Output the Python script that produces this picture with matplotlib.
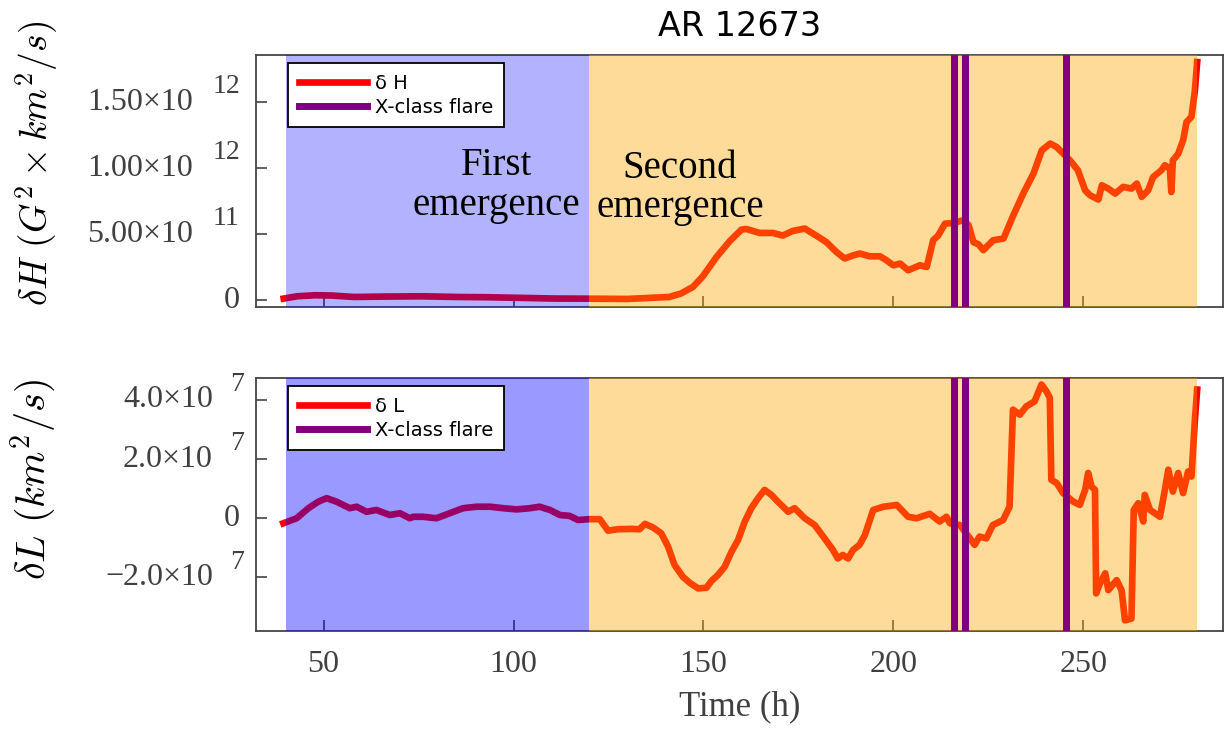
import matplotlib
matplotlib.use("Agg")
import matplotlib.pyplot as plt
import numpy as np

plt.rcParams["mathtext.fontset"] = "cm"

SERIF = "Liberation Serif"
TICK_COLOR = "#404040"

# helicity injection dH (units of 1e12 G^2 km^2/s)
t_H = [39.5, 43, 47.7, 52, 58, 66, 76, 85, 93, 102, 111, 120, 130, 141, 144,
       147.2, 149.8, 153.5, 157, 160, 161.3, 164.8, 168.3, 170.9, 173.5, 176.7,
       179.7, 182.4, 185, 187.2, 189.4, 191.2, 193.8, 196.5, 198.2, 200, 201.8,
       203.9, 207, 208.8, 210.5, 211.8, 213.6, 215.8, 218.4, 219.8, 221.1, 222.4,
       223.7, 226.3, 229, 231.6, 234.2, 236.9, 239.1, 241.3, 243, 246.5, 248.6,
       250.5, 251.8, 254, 254.9, 256.6, 258.4, 260.5, 262.7, 264.1, 265.4, 267.1,
       268.4, 270.6, 271.5, 272.8, 273.2, 273.6, 275, 276.3, 277.2, 278.5, 279.4,
       280]
dH = [0.013, 0.03, 0.038, 0.036, 0.025, 0.028, 0.03, 0.025, 0.023, 0.018, 0.013,
      0.012, 0.01, 0.025, 0.05, 0.1, 0.18, 0.33, 0.45, 0.535, 0.54, 0.51, 0.51,
      0.49, 0.525, 0.543, 0.49, 0.44, 0.366, 0.316, 0.34, 0.354, 0.333, 0.333,
      0.303, 0.265, 0.278, 0.227, 0.265, 0.252, 0.455, 0.49, 0.58, 0.586, 0.606,
      0.57, 0.44, 0.424, 0.38, 0.455, 0.467, 0.644, 0.808, 0.96, 1.136, 1.187,
      1.161, 1.06, 0.985, 0.833, 0.795, 0.763, 0.871, 0.846, 0.808, 0.859, 0.846,
      0.884, 0.783, 0.833, 0.934, 0.985, 1.023, 0.998, 0.82, 1.06, 1.11, 1.212,
      1.35, 1.39, 1.59, 1.805]

# angular momentum change dL (units of 1e7 km^2/s)
t_L = [39.4, 42.9, 46, 48.6, 50.8, 53.4, 56.9, 58.7, 61.3, 63.9, 67.4, 70.1, 72.7,
       73.6, 76.2, 79.7, 83.2, 86.7, 90.3, 93.8, 97.3, 100.8, 104.3, 106.9, 109.6,
       112.2, 114.8, 117, 120.1, 122.7, 124.9, 127.5, 131, 133.2, 134.6, 136.7,
       138.9, 140.7, 142.4, 144.6, 146.4, 148.6, 150.8, 152.1, 153.8, 155.6, 157.4,
       159.1, 160.9, 162.6, 164.4, 166.1, 167.9, 169.6, 172.3, 174, 176.7, 179.3,
       181.9, 184.1, 185.4, 186.7, 188.1, 189.4, 191.1, 192.5, 194.7, 197.4, 200.9,
       203.9, 206.1, 209.6, 212.2, 214, 214.9, 217.5, 219.2, 221.4, 222.7, 224.5,
       226.2, 228.9, 230.6, 231.5, 233.3, 235, 237.2, 239, 240.3, 241.2, 241.6, 243,
       244.7, 247.4, 249.1, 250.5, 251.3, 252.2, 253.1, 253.4, 254.4, 255.8, 256.6,
       258.8, 260.1, 261, 262.7, 263.3, 264.5, 265.8, 266.2, 267.6, 270.2, 271.5,
       272.4, 273.6, 275, 276.3, 277.6, 278.5, 279.4, 280]
dL = [-0.17, 0, 0.34, 0.56, 0.68, 0.56, 0.34, 0.39, 0.22, 0.28, 0.11, 0.17, 0,
      0.05, 0.05, 0, 0.17, 0.34, 0.39, 0.39, 0.34, 0.30, 0.34, 0.39, 0.28, 0.11,
      0.08, -0.06, -0.03, -0.03, -0.42, -0.37, -0.36, -0.37, -0.19, -0.31, -0.51,
      -0.96, -1.58, -1.98, -2.18, -2.37, -2.35, -2.12, -1.92, -1.64, -1.13, -0.74,
      -0.11, 0.34, 0.68, 0.96, 0.79, 0.56, 0.22, 0.34, 0, -0.23, -0.68, -1.07,
      -1.36, -1.24, -1.36, -1.07, -0.9, -0.57, 0.28, 0.39, 0.45, 0.05, 0, 0.15,
      -0.11, 0.05, -0.17, -0.23, -0.51, -0.9, -0.62, -0.68, -0.23, -0.06, 0.39,
      3.67, 3.5, 3.78, 3.95, 4.52, 4.29, 4.07, 1.3, 1.19, 0.85, 0.56, 0.45, 0.96,
      1.53, 1.07, 0.96, -2.54, -2.2, -1.86, -2.43, -2.09, -2.43, -3.45, -3.39,
      0.28, 0.51, -0.11, 0.79, 0.28, 0.05, 0.96, 1.64, 0.9, 1.53, 0.85, 1.58,
      1.41, 3.33, 4.35]

flare_times = [216.0, 219.0, 245.4]
first_emergence = (40, 120)
second_emergence = (120, 280)

H_ticks = [0, 5e11, 1e12, 1.5e12]
H_mant = ["0", "5.00×10", "1.00×10", "1.50×10"]
H_exp = ["", "11", "12", "12"]
L_ticks = [-2e7, 0, 2e7, 4e7]
L_mant = ["−2.0×10", "0", "2.0×10", "4.0×10"]
L_exp = ["7", "", "7", "7"]
x_ticks = [50, 100, 150, 200, 250]


def style_axis(ax, yticks, mant, exps, mant_off, exp_off):
    for s in ax.spines.values():
        s.set_color("#444444")
        s.set_linewidth(1.3)
    ax.tick_params(direction="in", length=8, width=1.2, color="#444444",
                   top=False, right=False, labelsize=23, labelcolor=TICK_COLOR, pad=14)
    ax.set_xticks(x_ticks)
    for lab in ax.get_xticklabels():
        lab.set_fontfamily(SERIF)
    ax.set_yticks(yticks)
    ax.set_yticklabels([])
    tr = ax.get_yaxis_transform()
    for v, m, e in zip(yticks, mant, exps):
        off = -11.5 if e == "" else mant_off
        ax.annotate(m, xy=(0, v), xycoords=tr, xytext=(off, 0), textcoords="offset points",
                    ha="right", va="center", fontsize=23, family=SERIF, color=TICK_COLOR)
        if e:
            ax.annotate(e, xy=(0, v), xycoords=tr, xytext=(exp_off, 11), textcoords="offset points",
                        ha="left", va="center", fontsize=20, family=SERIF, color=TICK_COLOR)


def add_legend(ax):
    leg = ax.legend(loc="upper left", bbox_to_anchor=(0.033, 0.968), borderaxespad=0,
                    fontsize=14, handlelength=3.5, handletextpad=0.45, labelspacing=0.25,
                    borderpad=0.55, fancybox=False, edgecolor="black", framealpha=1)
    leg.get_frame().set_linewidth(1.3)
    leg.set_zorder(6)


fig = plt.figure(figsize=(12.25, 7.29), dpi=100)
ax1 = fig.add_axes([256 / 1225, 1 - 307 / 729, 967 / 1225, 252 / 729])
ax2 = fig.add_axes([256 / 1225, 1 - 631 / 729, 967 / 1225, 253 / 729])

# top: helicity
ax1.plot(t_H, np.array(dH) * 1e12, color="red", lw=4.8, label="δ H", zorder=2)
ax1.axvspan(*first_emergence, color="blue", alpha=0.3, lw=0, zorder=3)
ax1.axvspan(*second_emergence, color="orange", alpha=0.4, lw=0, zorder=3)
for i, tf in enumerate(flare_times):
    ax1.axvline(tf, color="purple", lw=5, zorder=4, label="X-class flare" if i == 0 else None)
ax1.set_xlim(32.2, 286.8)
ax1.set_ylim(-5.1e10, 1.858e12)
style_axis(ax1, H_ticks, H_mant, H_exp, -45.5, -31.5)
ax1.tick_params(labelbottom=False)
ax1.set_title("AR 12673", fontsize=24, pad=14)
ax1.set_ylabel(r"$\delta H\ (G^2 \times km^2/s)$", fontsize=27, ha="center", va="center")
ax1.yaxis.set_label_coords(-0.227, 0.57)
ax1.text(95.6, 0.87e12, "First\nemergence", ha="center", va="center", fontsize=28,
         family=SERIF, zorder=5, linespacing=1.1)
ax1.text(143.8, 0.85e12, "Second\nemergence", ha="center", va="center", fontsize=28,
         family=SERIF, zorder=5, linespacing=1.1)
add_legend(ax1)

# bottom: angular momentum
ax2.plot(t_L, np.array(dL) * 1e7, color="red", lw=4.8, label="δ L", zorder=2)
ax2.axvspan(*first_emergence, color="blue", alpha=0.4, lw=0, zorder=3)
ax2.axvspan(*second_emergence, color="orange", alpha=0.4, lw=0, zorder=3)
for i, tf in enumerate(flare_times):
    ax2.axvline(tf, color="purple", lw=5, zorder=4, label="X-class flare" if i == 0 else None)
ax2.set_xlim(32.2, 286.8)
ax2.set_ylim(-3.81e7, 4.74e7)
style_axis(ax2, L_ticks, L_mant, L_exp, -31, -18.5)
ax2.set_xlabel("Time (h)", fontsize=25, family=SERIF, color=TICK_COLOR, labelpad=8)
ax2.set_ylabel(r"$\delta L\ (km^2/s)$", fontsize=29, ha="center", va="center")
ax2.yaxis.set_label_coords(-0.23, 0.6)
add_legend(ax2)

fig.savefig("out.png", dpi=100)
